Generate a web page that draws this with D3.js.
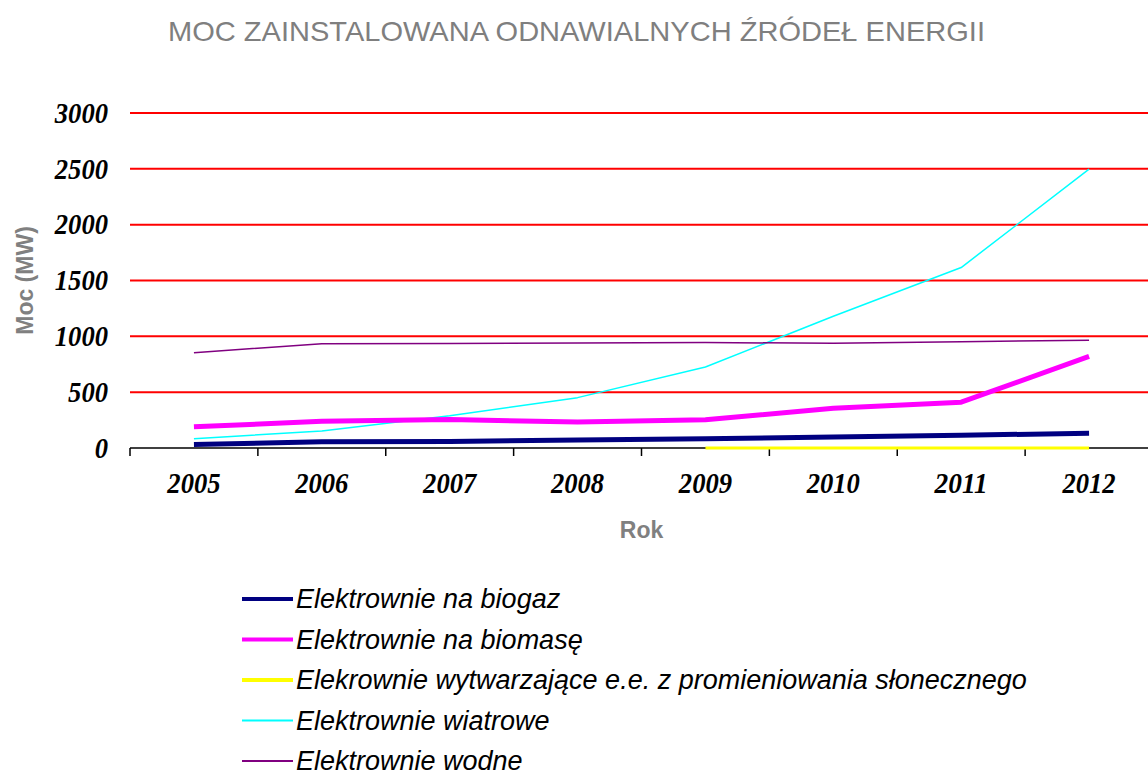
<!doctype html>
<html lang="pl">
<head>
<meta charset="utf-8">
<title>Moc zainstalowana OZE</title>
<script src="https://cdn.jsdelivr.net/npm/d3@7"></script>
<style>
  body { margin: 0; background: #fff; }
  svg { display: block; }
</style>
</head>
<body>
<div id="chart"></div>
<script>

// data (MW)
var years = ["2005", "2006", "2007", "2008", "2009", "2010", "2011", "2012"];
var biogaz = [32, 55, 58, 71, 83, 98, 115, 131];
var biomasa = [190, 239, 255, 232, 253, 356, 410, 821];
var slonce = [null, null, null, null, 1, 1, 1, 1];
var wiatr = [83, 153, 288, 451, 725, 1180, 1616, 2497];
var woda = [853, 934, 935, 941, 945, 937, 951, 966];
var yTicks = [0, 500, 1000, 1500, 2000, 2500, 3000];

var seriesNames = [
    "Elektrownie na biogaz",
    "Elektrownie na biomasę",
    "Elekrownie wytwarzające e.e. z promieniowania słonecznego",
    "Elektrownie wiatrowe",
    "Elektrownie wodne"
];
var seriesValues = [biogaz, biomasa, slonce, wiatr, woda];
var seriesColors = ["#000080", "#ff00ff", "#ffff00", "#00ffff", "#800080"];
var lineWidths = [5, 5, 3, 1.5, 1.5];
var legendWidths = [4, 4, 4, 2, 2];

var width = 1148;
var height = 771;
// note: "top" is taken by window.top, so use plot* names
var plotLeft = 130, plotRight = 1153, plotTop = 113, plotBottom = 448;

var svg = d3.select("#chart").append("svg")
    .attr("width", width)
    .attr("height", height);

var x = d3.scaleBand().domain(years).range([plotLeft, plotRight]).padding(0);
var y = d3.scaleLinear().domain([0, 3000]).range([plotBottom, plotTop]);

// title
svg.append("text")
    .attr("x", 168)
    .attr("y", 41)
    .attr("textLength", 817)
    .attr("lengthAdjust", "spacingAndGlyphs")
    .style("font-family", "'Liberation Sans', Arial, sans-serif")
    .style("font-size", "28px")
    .style("fill", "#7f7f7f")
    .text("MOC ZAINSTALOWANA ODNAWIALNYCH ŹRÓDEŁ ENERGII");

// red gridlines
svg.append("g").selectAll("line")
    .data(yTicks.filter(function(d) { return d > 0; }))
    .enter().append("line")
    .attr("x1", plotLeft).attr("x2", width)
    .attr("y1", function(d) { return y(d); })
    .attr("y2", function(d) { return y(d); })
    .style("stroke", "#ff0000")
    .style("stroke-width", 2);

//numbers are tall and narrow in the original, so squeeze them
function styleNumbers(sel) {
    sel.style("font-family", "'Liberation Serif', 'Times New Roman', serif")
        .style("font-weight", "bold")
        .style("font-style", "italic")
        .style("font-size", "29px")
        .style("fill", "#000")
        .attr("lengthAdjust", "spacingAndGlyphs")
        .attr("textLength", function() { return this.textContent.length * 13.3; });
}

// y axis labels
var yAxis = svg.append("g")
    .attr("transform", "translate(" + plotLeft + ",0)")
    .call(d3.axisLeft(y).tickValues(yTicks).tickFormat(d3.format("d")).tickSize(0).tickPadding(22));
yAxis.select(".domain").remove();
yAxis.selectAll("text").call(styleNumbers);

// x axis
var xAxis = svg.append("g")
    .attr("transform", "translate(0," + plotBottom + ")")
    .call(d3.axisBottom(x).tickSize(0).tickPadding(24));
xAxis.select(".domain").remove();
xAxis.selectAll("text").call(styleNumbers);

svg.append("line")
    .attr("x1", plotLeft).attr("x2", width)
    .attr("y1", plotBottom).attr("y2", plotBottom)
    .style("stroke", "#000").style("stroke-width", 1.5);

//boundary ticks between categories
var bounds = years.map(function(d) { return x(d); }).concat([plotRight]);
svg.append("g").selectAll("line")
    .data(bounds)
    .enter().append("line")
    .attr("x1", function(d) { return d; })
    .attr("x2", function(d) { return d; })
    .attr("y1", plotBottom).attr("y2", plotBottom + 8)
    .style("stroke", "#000").style("stroke-width", 1.5);

// axis titles
svg.append("text")
    .attr("x", (plotLeft + plotRight) / 2)
    .attr("y", 538)
    .attr("text-anchor", "middle")
    .style("font-family", "'Liberation Sans', Arial, sans-serif")
    .style("font-weight", "bold")
    .style("font-size", "23px")
    .style("fill", "#808080")
    .text("Rok");

svg.append("text")
    .attr("transform", "translate(33," + ((plotTop + plotBottom) / 2) + ") rotate(-90)")
    .attr("text-anchor", "middle")
    .style("font-family", "'Liberation Sans', Arial, sans-serif")
    .style("font-weight", "bold")
    .style("font-size", "23px")
    .style("fill", "#808080")
    .text("Moc (MW)");

// series lines
var line = d3.line()
    .defined(function(d) { return d != null; })
    .x(function(d, i) { return x(years[i]) + x.bandwidth() / 2; })
    .y(function(d) { return y(d); });

// draw order: wind/hydro first, then thick ones on top
var order = [3, 4, 1, 2, 0];
order.forEach(function(k) {
    svg.append("path")
        .datum(seriesValues[k])
        .attr("d", line)
        .style("fill", "none")
        .style("stroke", seriesColors[k])
        .style("stroke-width", lineWidths[k])
        .style("stroke-linejoin", "round");
});

// legend
var legend = svg.append("g");
seriesNames.forEach(function(name, i) {
    var ly = 599 + i * 40.5;
    legend.append("line")
        .attr("x1", 242).attr("x2", 293)
        .attr("y1", ly).attr("y2", ly)
        .style("stroke", seriesColors[i])
        .style("stroke-width", legendWidths[i]);
    legend.append("text")
        .attr("x", 296)
        .attr("y", ly + 9)
        .style("font-family", "'Liberation Sans', Arial, sans-serif")
        .style("font-style", "italic")
        .style("font-size", "27px")
        .style("fill", "#000")
        .text(name);
});

</script>
</body>
</html>
